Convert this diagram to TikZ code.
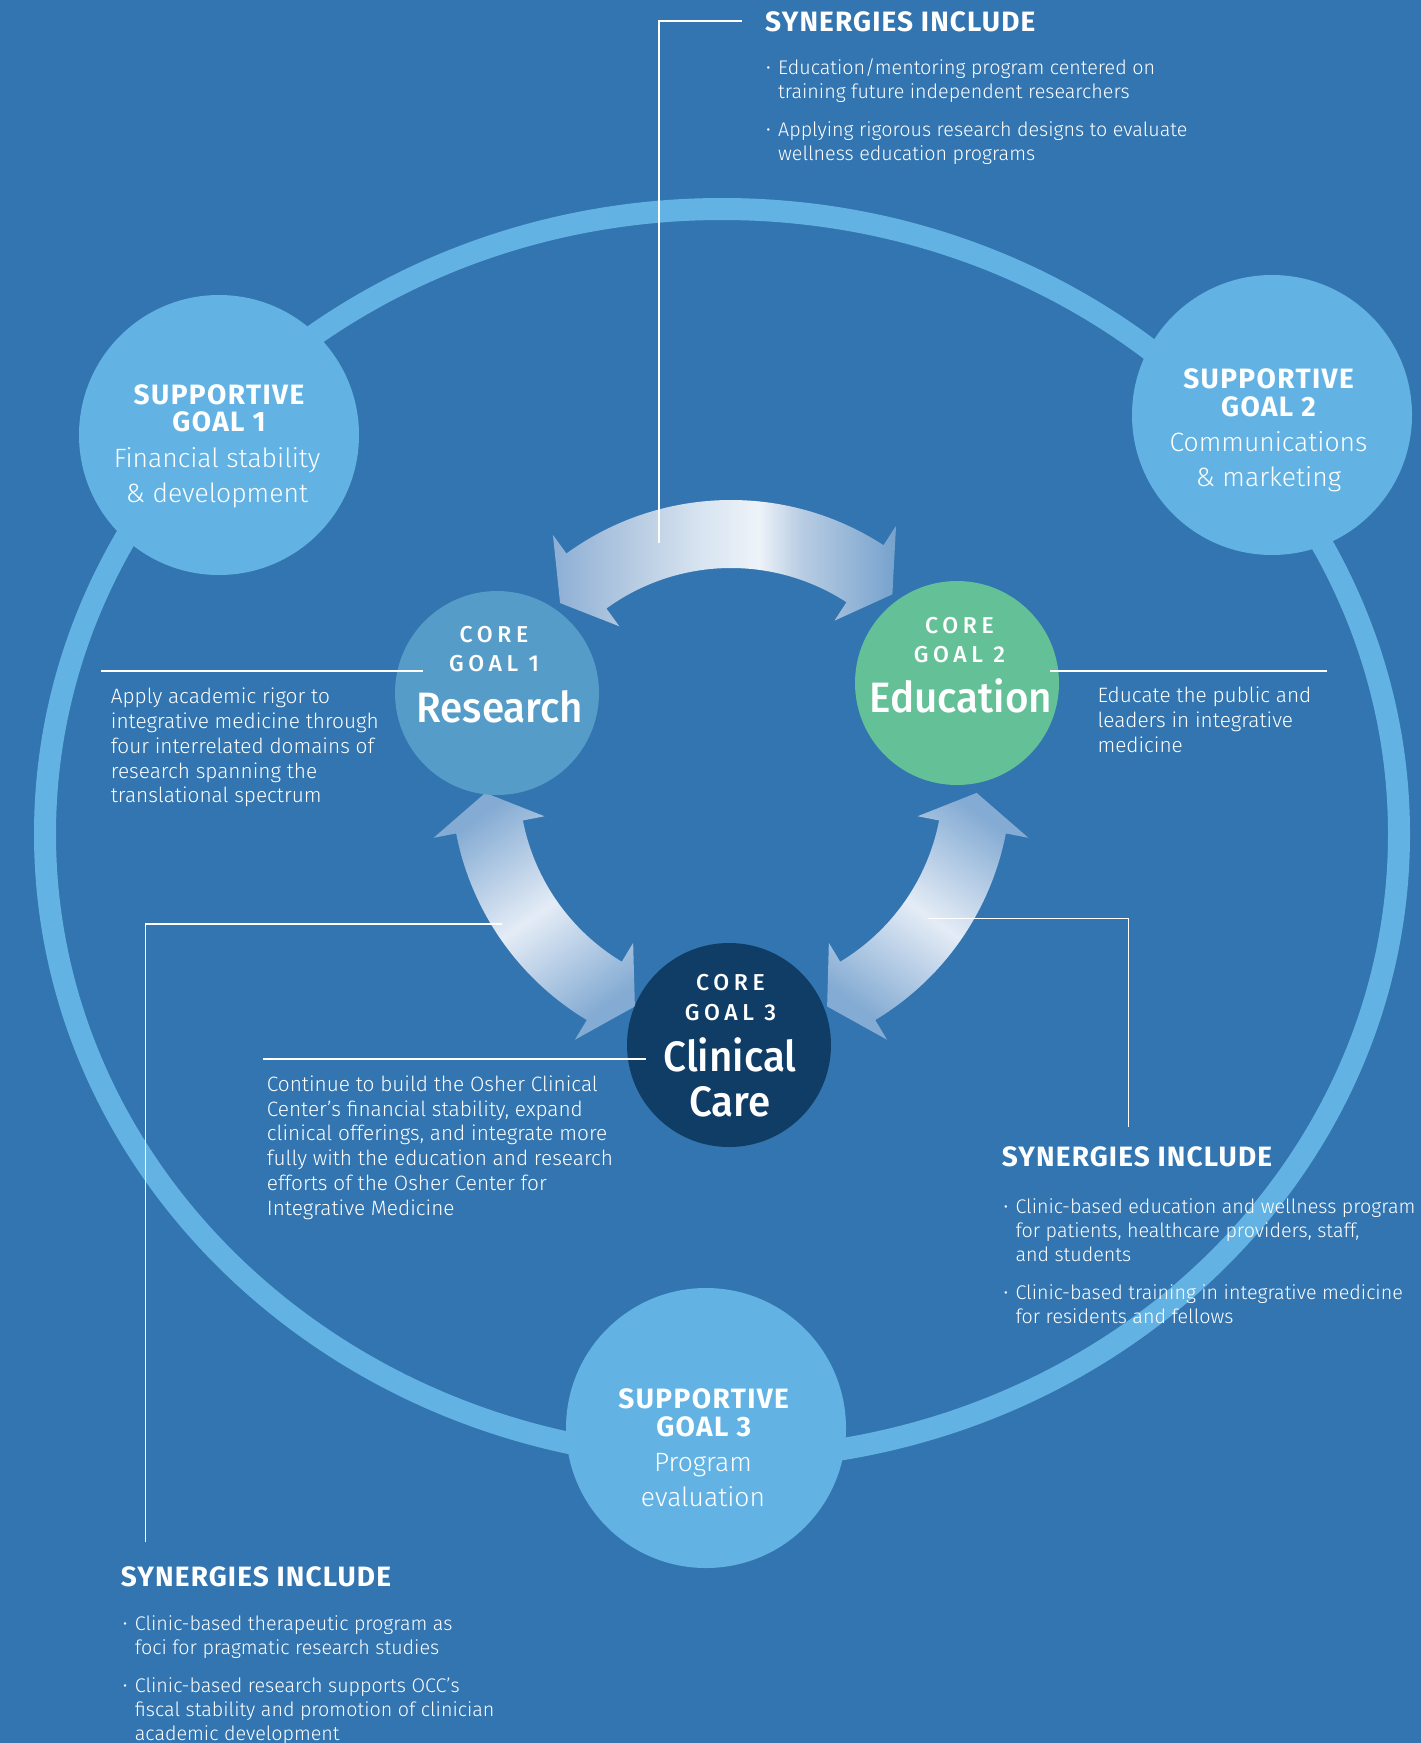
\documentclass[tikz,border=0pt]{standalone}
\usepackage{fontspec}
\setmainfont{Fira Sans}[UprightFont={* Light}, BoldFont={* Bold}]
\newfontfamily\goalfont{Fira Sans}[UprightFont={* Medium}, FakeStretch=0.95]
\newfontfamily\capsfont{Fira Sans}[UprightFont={* Medium}, LetterSpace=20]
\newfontfamily\headfont{Fira Sans}[UprightFont={* Bold}, LetterSpace=4]
\newfontfamily\supfont{Fira Sans}[UprightFont={* Bold}, LetterSpace=5]
\usepackage{tikz}
\usetikzlibrary{calc, positioning}

\definecolor{bgblue}{HTML}{3275B0}
\definecolor{ringblue}{HTML}{62B3E4}
\definecolor{researchblue}{HTML}{559DC8}
\definecolor{edugreen}{HTML}{64C197}
\definecolor{clinicnavy}{HTML}{0F3D66}
\definecolor{bandend}{HTML}{84ABD3}
\definecolor{bandlight}{HTML}{E4ECF6}
\definecolor{bandA}{HTML}{8DAFD5}
\definecolor{bandB}{HTML}{B8CCE2}
\definecolor{bandC}{HTML}{D9E5F1}
\definecolor{bandD}{HTML}{EEF3F9}
\definecolor{bandE}{HTML}{B9CDE3}
\definecolor{bandF}{HTML}{76A2CD}

% light streak across the upper band
\pgfdeclarehorizontalshading{topband}{100bp}{color(0bp)=(bandA); color(25bp)=(bandA);
  color(37bp)=(bandB); color(47bp)=(bandC); color(55bp)=(bandD); color(61bp)=(bandE);
  color(75bp)=(bandF); color(100bp)=(bandF)}

% curved two-headed band round (hub), from angle #2 to angle #3
\newcommand\bandarrow[3][]{%
  \path[shade, #1] ($(hub)+(#2:280)$) arc[start angle=#2, end angle=#3, radius=280]
    -- ($(hub)+(#3:303)$) -- ($(hub)+(#3+8:246)$) -- ($(hub)+(#3:190)$)
    -- ($(hub)+(#3:212)$) arc[start angle=#3, end angle=#2, radius=212]
    -- ($(hub)+(#2:190)$) -- ($(hub)+(#2-8:246)$) -- ($(hub)+(#2:303)$) -- cycle;}

\newcommand\bulletmark{\makebox[12pt][l]{\fontsize{16}{16}\selectfont\raisebox{0.8pt}{•}}}
\newcommand\bulgap{\hspace*{12pt}}

\begin{document}
\begin{tikzpicture}[
    x=1pt, y=-1pt,
    link/.style={draw=white, line width=1.3pt},
    txt/.style={text=white, inner sep=0pt, anchor=base west, align=left,
      font=\fontsize{19.7}{24}\selectfont},
    desc/.style={txt, font=\fontsize{20.8}{24.7}\selectfont},
    synhead/.style={text=white, inner sep=0pt, anchor=base west,
      font=\headfont\fontsize{28}{28}\selectfont},
    support/.style={circle, fill=ringblue, minimum size=280pt, inner sep=0pt},
    core/.style={circle, minimum size=204pt, inner sep=0pt},
    suptitle/.style={text=white, inner sep=0pt, anchor=base, align=center,
      font=\supfont\fontsize{28}{27.7}\selectfont},
    subtext/.style={text=white, inner sep=0pt, anchor=base, align=center,
      font=\fontsize{26.5}{35}\selectfont},
    coretag/.style={text=white, inner sep=0pt, anchor=base, align=center,
      font=\capsfont\fontsize{23}{29.2}\selectfont},
    corename/.style={text=white, inner sep=0pt, anchor=base, align=center,
      font=\goalfont\fontsize{42.5}{44.3}\selectfont}
  ]

  \useasboundingbox (0,0) rectangle (1421,1743);
  \clip (0,0) rectangle (1421,1743);
  \fill[bgblue] (0,0) rectangle (1421,1743);

  % outer ring with the supportive goals on it
  \draw[ringblue, line width=22pt] (722,834) ellipse [x radius=677, y radius=625];
  \node[support] (supA) at (219,435) {};
  \node[support] (supB) at (1272,415) {};
  \node[support] (supC) at (706,1428) {};

  % bands between the core goals
  \coordinate (hub) at (731,780);
  \bandarrow[shading=topband]{234}{303}
  \bandarrow[top color=bandend, bottom color=bandend, middle color=bandlight, shading angle=35]{121}{169}
  \bandarrow[top color=bandend, bottom color=bandend, middle color=bandlight, shading angle=-35]{11}{59}

  \node[core, fill=researchblue] (coreA) at (497,693) {};
  \node[core, fill=edugreen] (coreB) at (957,683) {};
  \node[core, fill=clinicnavy] (coreC) at (729,1045) {};

  % goal labels (placed at the baseline of their last line)
  \node[suptitle] (supAttl) at (219,431.7) {SUPPORTIVE\\GOAL 1};
  \node[subtext] (supAtxt) at (217,502.7) {Financial stability\\\& development};
  \node[suptitle] (supBttl) at (1268.5,416) {SUPPORTIVE\\GOAL 2};
  \node[subtext] (supBtxt) at (1268.5,486.7) {Communications\\\& marketing};
  \node[suptitle] (supCttl) at (703.7,1436) {SUPPORTIVE\\GOAL 3};
  \node[subtext] (supCtxt) at (703,1506.7) {Program\\evaluation};

  \node[coretag] (coreAtag) at (494,671.7) {CORE\\GOAL 1};
  \node[corename] (coreAname) at (500,722.7) {Research};
  \node[coretag] (coreBtag) at (959.5,662.3) {CORE\\GOAL 2};
  \node[corename] (coreBname) at (960.7,712.7) {Education};
  \node[coretag] (coreCtag) at (730.5,1020) {CORE\\GOAL 3};
  \node[corename] (coreCname) at (730,1116) {Clinical\\Care};

  % descriptions
  \node[desc] (resTxt) at (110.7,802.7) {Apply academic rigor to\\integrative medicine through\\four interrelated domains of\\research spanning the\\translational spectrum};
  \node[desc] (eduTxt) at (1097.3,752.3) {Educate the public and\\leaders in integrative\\medicine};
  \node[desc] (cliTxt) at (266.7,1215) {Continue to build the Osher Clinical\\Center’s financial stability, expand\\clinical offerings, and integrate more\\fully with the education and research\\efforts of the Osher Center for\\Integrative Medicine};

  % synergies
  \node[synhead] (synTop) at (765,31.7) {SYNERGIES INCLUDE};
  \node[txt] (synTopList) at (766,160) {\bulletmark Education/mentoring program centered on\\
    \bulgap training future independent researchers\\[13.4pt]
    \bulletmark Applying rigorous research designs to evaluate\\
    \bulgap wellness education programs};

  \node[synhead] (synRight) at (1001.7,1166.7) {SYNERGIES INCLUDE};
  \node[txt] (synRightList) at (1003.3,1323.3) {\bulletmark Clinic-based education and wellness program\\
    \bulgap for patients, healthcare providers, staff,\\
    \bulgap and students\\[14pt]
    \bulletmark Clinic-based training in integrative medicine\\
    \bulgap for residents and fellows};

  \node[synhead] (synLeft) at (120.7,1586.7) {SYNERGIES INCLUDE};
  \node[txt] (synLeftList) at (122.7,1740) {\bulletmark Clinic-based therapeutic program as\\
    \bulgap foci for pragmatic research studies\\[14pt]
    \bulletmark Clinic-based research supports OCC’s\\
    \bulgap fiscal stability and promotion of clinician\\
    \bulgap academic development};

  % leader lines
  \coordinate (topArm) at (742,21);
  \coordinate (topFoot) at (659,543);
  \draw[link] (topArm) -| (topFoot);
  \coordinate (resL) at (101,671);
  \draw[link] (resL) -- ($(coreA.west)+(28,-22)$);
  \coordinate (eduR) at (1327,671);
  \draw[link] ($(coreB.east)+(-9,-12)$) -- (eduR);
  \coordinate (cliL) at (263,1059);
  \draw[link] (cliL) -- ($(coreC.west)+(19,14)$);
  \coordinate (armR) at (928,918.5);
  \coordinate (synRtop) at (1128.5,1127);
  \draw[link] (armR) -| (synRtop);
  \coordinate (armL) at (502,924);
  \coordinate (synLtop) at (145.5,1542);
  \draw[link] (armL) -| (synLtop);
\end{tikzpicture}
\end{document}
